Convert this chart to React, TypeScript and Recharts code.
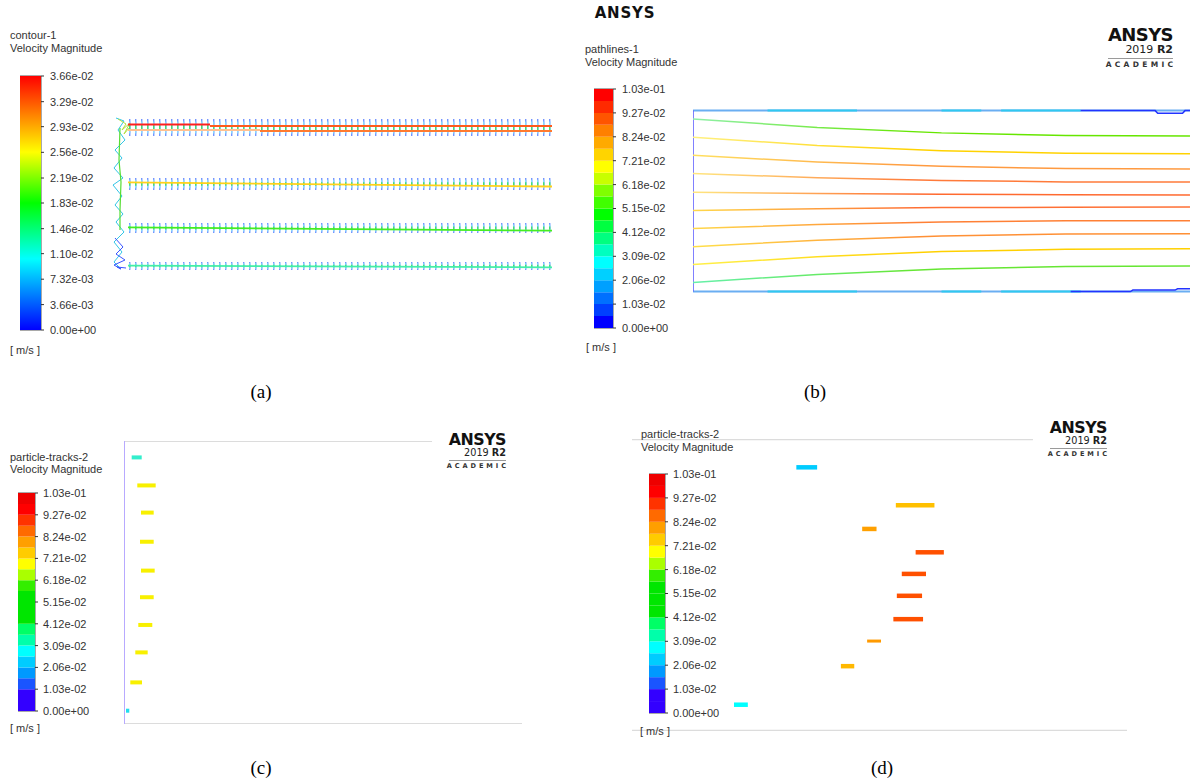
import { Bar, BarChart, Line, LineChart, ReferenceArea, XAxis, YAxis } from "recharts"

const SANS = '"Liberation Sans", Arial, sans-serif'
const LOGO_FONT = '"DejaVu Sans", Verdana, sans-serif'

// colour scale (a): contour, continuous
const A_MAX = 0.0366
const A_TICKS = [0, 0.00366, 0.00732, 0.011, 0.0146, 0.0183, 0.0219, 0.0256, 0.0293, 0.0329, 0.0366]

// colour scale (b)(c)(d): banded, 20 levels
const V_MAX = 0.103
const V_TICKS = [0, 0.0103, 0.0206, 0.0309, 0.0412, 0.0515, 0.0618, 0.0721, 0.0824, 0.0927, 0.103]
const V_LEVELS = [
  0, 0.00515, 0.0103, 0.01545, 0.0206, 0.02575, 0.0309, 0.03605, 0.0412, 0.04635, 0.0515,
  0.05665, 0.0618, 0.06695, 0.0721, 0.07725, 0.0824, 0.08755, 0.0927, 0.09785, 0.103,
]
// band colours listed bottom -> top
const BANDS_B = [
  "#0000ff", "#0040ff", "#0070ff", "#00a0ff", "#00d0ff", "#00ffff", "#00ffc0", "#00ff80", "#00ff40", "#00ff00",
  "#40ff00", "#80ff00", "#c8ff00", "#ffff00", "#ffd400", "#ffaa00", "#ff8000", "#ff5500", "#ff2a00", "#ff0000",
]
const BANDS_CD = [
  "#3300ff", "#3300ff", "#1a55ff", "#0099ff", "#00ccff", "#00ffff", "#00ffaa", "#00ff66", "#00e600", "#00e600",
  "#00e600", "#33ee00", "#aaff00", "#ffff00", "#ffcc00", "#ff9f00", "#ff6a00", "#ff3300", "#ff0000", "#ee0000",
]

// (a) contour-1: four channels (x, y in mm)
const A_TICK_Y = [15.25, 9.6, 5.2, 1.4]
const A_TICK_X0 = [1.9, 1.9, 1.9, 1.9]
const A_TICK_X1 = [44.1, 44.1, 44.1, 44.1]
const A_STREAK_X0 = [1.8, 10.0, 1.8, 15.0, 1.8, 1.8, 1.8]
const A_STREAK_X1 = [10.0, 44.2, 15.0, 44.2, 44.2, 44.2, 44.2]
const A_STREAK_Y0 = [15.55, 15.4, 15.0, 14.9, 9.77, 5.27, 1.43]
const A_STREAK_Y1 = [15.55, 15.4, 15.0, 14.9, 9.35, 4.93, 1.27]
const A_WALL_X = [0.6, 1.4, 0.8, 1.5, 0.5, 1.2, 0.4, 1.3, 0.3, 1.2, 0.5, 1.3, 0.6, 1.4, 0.4, 1.2, 0.4, 1.0]
const A_WALL_Y = [16.2, 15.9, 15.0, 14.0, 13.0, 12.2, 11.2, 10.2, 9.5, 8.4, 7.5, 6.6, 5.8, 4.8, 3.8, 2.8, 1.8, 1.2]
const A_WALL2_X = [0.5, 1.3, 0.6, 1.5, 0.4, 1.1, 0.7, 1.6]
const A_WALL2_Y = [4.2, 3.3, 2.6, 2.0, 1.5, 1.1, 1.3, 1.2]
const A_CORE_X = [1.0, 0.9, 1.1, 1.0, 1.0]
const A_CORE_Y = [15.2, 12.0, 9.8, 7.0, 5.0]
const A_KNOT_X = [0.8, 1.6, 1.2, 2.0, 1.4, 1.9]
const A_KNOT_Y = [16.1, 15.6, 15.0, 15.7, 14.6, 15.2]

// (b) pathlines-1 (x: fraction of length, y: mm)
const B_X = [0, 0.25, 0.5, 0.75, 1]
const B_PATHS = [
  [9.54, 9.07, 8.77, 8.63, 8.6],
  [8.53, 8.07, 7.78, 7.64, 7.61],
  [7.53, 7.16, 6.92, 6.8, 6.78],
  [6.53, 6.29, 6.14, 6.06, 6.05],
  [5.49, 5.42, 5.38, 5.35, 5.34],
  [4.48, 4.57, 4.64, 4.66, 4.67],
  [3.49, 3.7, 3.84, 3.91, 3.92],
  [2.48, 2.84, 3.07, 3.18, 3.2],
  [1.49, 1.93, 2.21, 2.34, 2.37],
  [0.5, 0.95, 1.25, 1.38, 1.41],
]
const B_START_COLOR = ["#8ff0a8", "#fff080", "#ffe060", "#ffe680", "#ffe680", "#ffd84a", "#ffd84a", "#ffe04a", "#fff04a", "#66f0aa"]
const B_END_COLOR = ["#66e600", "#ffd200", "#ff9a40", "#ff7a3a", "#ff6a30", "#ff7035", "#ff8035", "#ff9035", "#ffd000", "#66e633"]
const B_TOP_DARK_X = [0.78, 0.93, 0.935, 0.985, 0.99, 1]
const B_TOP_DARK_Y = [10, 10, 9.85, 9.85, 10, 10]
const B_BOT_DARK_X = [0.76, 0.88, 0.885, 0.97, 0.975, 1]
const B_BOT_DARK_Y = [0, 0, 0.08, 0.08, 0.15, 0.15]
const B_TOP_CYAN_X0 = [0.15, 0.5, 0.62]
const B_TOP_CYAN_X1 = [0.33, 0.58, 0.78]

// (c) particle-tracks-2, first view
const C_X0 = [1.93, 3.34, 4.27, 4.02, 4.27, 4.02, 3.59, 2.84, 1.58, 0.5]
const C_X1 = [4.45, 7.96, 7.46, 7.46, 7.71, 7.46, 7.11, 5.95, 4.52, 1.33]
const C_Y = [94.2, 84.3, 74.7, 64.4, 54.2, 44.8, 35.0, 25.3, 14.7, 4.7]
const C_COLOR = ["#33eecc", "#f8f000", "#f8f000", "#f8f000", "#f8f000", "#f8f000", "#f8f000", "#f8f000", "#f8f000", "#22ddee"]

// (d) particle-tracks-2, later view
const D_X0 = [33.2, 53.3, 46.5, 57.3, 54.5, 53.5, 52.8, 47.5, 42.2, 20.6]
const D_X1 = [37.4, 61.1, 49.4, 63.0, 59.4, 58.6, 58.8, 50.3, 44.9, 23.4]
const D_Y = [90.3, 77.3, 69.2, 61.2, 53.8, 46.3, 38.3, 30.8, 22.2, 9.0]
const D_COLOR = ["#00ccff", "#ffc000", "#ffa000", "#ff5000", "#ff5000", "#ff5000", "#ff5000", "#ff9a00", "#ffb800", "#00ffff"]

const fmt = (v: number) => {
  if (v === 0) return "0.00e+00"
  const [m, e] = v.toExponential(2).split("e")
  const n = parseInt(e, 10)
  return `${m}e${n < 0 ? "-" : "+"}${String(Math.abs(n)).padStart(2, "0")}`
}

const seg = (x0: number, x1: number, y0: number, y1: number) => [
  { x: x0, y: y0 },
  { x: x1, y: y1 },
]
const pts = (xs: number[], ys: number[]) => xs.map((x, i) => ({ x, y: ys[i] }))

interface ColorBarProps {
  left: number
  top: number
  barWidth: number
  barHeight: number
  max: number
  ticks: number[]
  bands?: string[]
  gradientId?: string
  tickMargin: number
}

const ColorBar = ({ left, top, barWidth, barHeight, max, ticks, bands, gradientId, tickMargin }: ColorBarProps) => {
  const pad = 8
  const axisW = 70
  const row: Record<string, number | string> = { k: "cb" }
  if (bands) bands.forEach((_, i) => (row[`b${i}`] = V_LEVELS[i + 1] - V_LEVELS[i]))
  else row.b0 = max
  return (
    <div style={{ position: "absolute", left, top: top - pad }}>
      <BarChart
        width={barWidth + axisW}
        height={barHeight + 2 * pad}
        data={[row]}
        margin={{ top: pad, bottom: pad, left: 0, right: 0 }}
        barCategoryGap={0}
        barGap={0}
      >
        <defs>
          <linearGradient id="contourGrad" x1="0" y1="0" x2="0" y2="1">
            <stop offset="0" stopColor="#ff0000" />
            <stop offset="0.15" stopColor="#ff8000" />
            <stop offset="0.3" stopColor="#ffff00" />
            <stop offset="0.5" stopColor="#00ff00" />
            <stop offset="0.72" stopColor="#00ffff" />
            <stop offset="1" stopColor="#0000ff" />
          </linearGradient>
        </defs>
        <XAxis dataKey="k" hide />
        <YAxis
          type="number"
          orientation="right"
          width={axisW}
          domain={[0, max]}
          allowDataOverflow
          ticks={ticks}
          interval={0}
          tickFormatter={fmt}
          tickSize={3}
          tickMargin={tickMargin}
          axisLine={false}
          tickLine={{ stroke: "#333" }}
          tick={{ fontSize: 11, fill: "#333", fontFamily: SANS }}
        />
        {bands ? (
          bands.map((c, i) => (
            <Bar key={i} dataKey={`b${i}`} stackId="s" fill={c} isAnimationActive={false} />
          ))
        ) : (
          <Bar dataKey="b0" fill={`url(#${gradientId})`} isAnimationActive={false} />
        )}
        <ReferenceArea y1={0} y2={max} fill="none" stroke="#555" strokeWidth={1} ifOverflow="visible" />
      </BarChart>
    </div>
  )
}

const Txt = ({ x, y, children, size = 11 }: { x: number; y: number; children: React.ReactNode; size?: number }) => (
  <div
    style={{
      position: "absolute",
      left: x,
      top: y - 7,
      fontSize: size,
      lineHeight: "14px",
      fontFamily: SANS,
      color: "#333",
      whiteSpace: "nowrap",
    }}
  >
    {children}
  </div>
)

const Caption = ({ cx, cy, children }: { cx: number; cy: number; children: React.ReactNode }) => (
  <div
    style={{
      position: "absolute",
      left: cx - 30,
      width: 60,
      top: cy - 11,
      textAlign: "center",
      fontSize: 19,
      lineHeight: "22px",
      fontFamily: '"Liberation Serif", "Times New Roman", serif',
      color: "#000",
    }}
  >
    {children}
  </div>
)

const Logo = ({ right, top, s = 1 }: { right: number; top: number; s?: number }) => (
  <div
    style={{
      position: "absolute",
      left: right - 90 * s,
      top,
      width: 90 * s,
      textAlign: "right",
      fontFamily: LOGO_FONT,
      color: "#111",
    }}
  >
    <div style={{ fontSize: 18 * s, fontWeight: 700, lineHeight: `${16 * s}px`, letterSpacing: -0.6 * s }}>ANSYS</div>
    <div style={{ fontSize: 11 * s, lineHeight: `${11 * s}px`, marginTop: 1 * s, color: "#222" }}>
      2019 <b>R2</b>
    </div>
    <div style={{ borderTop: "1.5px solid #9a9a9a", marginLeft: 25 * s, marginTop: 3 * s }} />
    <div
      style={{
        fontSize: 7.5 * s,
        fontWeight: 700,
        letterSpacing: 3.3 * s,
        lineHeight: `${10 * s}px`,
        marginTop: 1 * s,
        marginRight: -3.3 * s,
        color: "#333",
      }}
    >
      ACADEMIC
    </div>
  </div>
)

interface PlotProps {
  left: number
  top: number
  width: number
  height: number
  xDomain: [number, number]
  yDomain: [number, number]
  children: React.ReactNode
}

const Plot = ({ left, top, width, height, xDomain, yDomain, children }: PlotProps) => (
  <div style={{ position: "absolute", left, top }}>
    <LineChart width={width} height={height} margin={{ top: 0, right: 0, bottom: 0, left: 0 }}>
      <defs>
        {B_START_COLOR.map((c, i) => (
          <linearGradient key={i} id={`pl${i}`} x1="0" y1="0" x2="1" y2="0">
            <stop offset="0" stopColor={c} />
            <stop offset="0.45" stopColor={B_END_COLOR[i]} />
            <stop offset="1" stopColor={B_END_COLOR[i]} />
          </linearGradient>
        ))}
      </defs>
      <XAxis type="number" dataKey="x" domain={xDomain} hide />
      <YAxis type="number" dataKey="y" domain={yDomain} hide />
      {children}
    </LineChart>
  </div>
)

const lineProps = { dot: false, activeDot: false, isAnimationActive: false, type: "linear" as const, dataKey: "y" }

const TICK_H = [17, 12, 10, 8]
const TICK_DASH = "1.4 4.6"
const STREAK_COLOR = ["#ff2020", "#ff5a1e", "#ffc090", "#ff7a30", "#ffd21a", "#44ee22", "#44eeaa"]

export default function App() {
  return (
    <div
      style={{
        position: "absolute",
        left: 0,
        top: 0,
        width: 1193,
        height: 780,
        background: "#fff",
        overflow: "hidden",
      }}
    >
      {/* (a) contour-1 */}
      <Plot left={110} top={110} width={450} height={170} xDomain={[0, 45]} yDomain={[0, 17]}>
        {A_TICK_Y.map((y, i) => (
          <Line key={`tb${i}`} {...lineProps} data={seg(A_TICK_X0[i], A_TICK_X1[i], y, y)} stroke="#3a66ff" strokeOpacity={0.7} strokeWidth={TICK_H[i]} strokeDasharray={TICK_DASH} />
        ))}
        {A_TICK_Y.map((y, i) => (
          <Line key={`tc${i}`} {...lineProps} data={seg(A_TICK_X0[i], A_TICK_X1[i], y, y)} stroke="#86d8ff" strokeWidth={TICK_H[i] * 0.7} strokeDasharray={TICK_DASH} />
        ))}
        {A_TICK_Y.map((y, i) => (
          <Line key={`tg${i}`} {...lineProps} data={seg(A_TICK_X0[i], A_TICK_X1[i], y, y)} stroke="#44e070" strokeWidth={TICK_H[i] * 0.3} strokeDasharray={TICK_DASH} />
        ))}
        <Line {...lineProps} data={pts(A_WALL_X, A_WALL_Y)} stroke="#33c6e6" strokeWidth={1} />
        <Line {...lineProps} data={pts(A_WALL2_X, A_WALL2_Y)} stroke="#3a55ff" strokeWidth={1} />
        <Line {...lineProps} data={pts(A_CORE_X, A_CORE_Y)} stroke="#55dd33" strokeWidth={1.2} />
        <Line {...lineProps} data={pts(A_KNOT_X, A_KNOT_Y)} stroke="#b0e040" strokeWidth={1} />
        {A_STREAK_X0.map((x0, i) => (
          <Line key={`s${i}`} {...lineProps} data={seg(x0, A_STREAK_X1[i], A_STREAK_Y0[i], A_STREAK_Y1[i])} stroke={STREAK_COLOR[i]} strokeWidth={1.8} />
        ))}
      </Plot>
      <Txt x={10} y={35}>contour-1</Txt>
      <Txt x={10} y={48}>Velocity Magnitude</Txt>
      <ColorBar left={20} top={76} barWidth={21} barHeight={254} max={A_MAX} ticks={A_TICKS} gradientId="contourGrad" tickMargin={6} />
      <Txt x={10} y={350}>[ m/s ]</Txt>

      {/* (b) pathlines-1: domain padded so wall strokes are not cut */}
      <Plot left={693} top={107.4} width={499} height={188.2} xDomain={[0, 1.004]} yDomain={[-0.2, 10.2]}>
        <Line {...lineProps} data={seg(0, 1, 10, 10)} stroke="#6aaef2" strokeWidth={2} />
        <Line {...lineProps} data={seg(0, 1, 0, 0)} stroke="#6aaef2" strokeWidth={2} />
        {B_TOP_CYAN_X0.map((x0, i) => (
          <Line key={`ct${i}`} {...lineProps} data={seg(x0, B_TOP_CYAN_X1[i], 10, 10)} stroke="#30c8f0" strokeWidth={2} />
        ))}
        {B_TOP_CYAN_X0.map((x0, i) => (
          <Line key={`cb${i}`} {...lineProps} data={seg(x0, B_TOP_CYAN_X1[i], 0, 0)} stroke="#30c8f0" strokeWidth={2} />
        ))}
        <Line {...lineProps} data={pts(B_TOP_DARK_X, B_TOP_DARK_Y)} stroke="#2233ff" strokeWidth={1.5} />
        <Line {...lineProps} data={pts(B_BOT_DARK_X, B_BOT_DARK_Y)} stroke="#2233ff" strokeWidth={1.5} />
        <Line {...lineProps} data={seg(0, 0, 0, 10)} stroke="#5a5aff" strokeWidth={1.5} />
        {B_PATHS.map((ys, i) => (
          <Line key={i} {...lineProps} data={pts(B_X, ys)} stroke={`url(#pl${i})`} strokeWidth={1.5} />
        ))}
      </Plot>
      <Txt x={585} y={49}>pathlines-1</Txt>
      <Txt x={585} y={62}>Velocity Magnitude</Txt>
      <ColorBar left={594} top={89} barWidth={19} barHeight={239} max={V_MAX} ticks={V_TICKS} bands={BANDS_B} tickMargin={6} />
      <Txt x={586} y={347}>[ m/s ]</Txt>
      <Logo right={1173} top={27} />
      <div
        style={{
          position: "absolute",
          left: 540,
          top: 4,
          width: 170,
          textAlign: "center",
          fontFamily: LOGO_FONT,
          fontWeight: 700,
          fontSize: 15,
          lineHeight: "18px",
          letterSpacing: 0.8,
          color: "#111",
        }}
      >
        ANSYS
      </div>

      {/* (c) particle-tracks-2 */}
      <Plot left={124} top={441} width={398} height={283} xDomain={[0, 100]} yDomain={[0, 100]}>
        <Line {...lineProps} data={seg(0, 77.4, 100, 100)} stroke="#dcdcdc" strokeWidth={2} />
        <Line {...lineProps} data={seg(0, 100, 0, 0)} stroke="#dcdcdc" strokeWidth={2} />
        <Line {...lineProps} data={seg(0, 0, 0, 100)} stroke="#b8aaff" strokeWidth={2} />
        {C_X0.map((x0, i) => (
          <Line key={i} {...lineProps} data={seg(x0, C_X1[i], C_Y[i], C_Y[i])} stroke={C_COLOR[i]} strokeWidth={4} />
        ))}
      </Plot>
      <Txt x={10} y={457}>particle-tracks-2</Txt>
      <Txt x={10} y={469}>Velocity Magnitude</Txt>
      <ColorBar left={18} top={493} barWidth={17} barHeight={218} max={V_MAX} ticks={V_TICKS} bands={BANDS_CD} tickMargin={5} />
      <Txt x={10} y={728}>[ m/s ]</Txt>
      <Logo right={506} top={433} s={0.88} />

      {/* (d) particle-tracks-2 */}
      <Plot left={632} top={439} width={495} height={292} xDomain={[0, 100]} yDomain={[0, 100]}>
        <Line {...lineProps} data={seg(0, 81, 100, 100)} stroke="#dcdcdc" strokeWidth={2.5} />
        <Line {...lineProps} data={seg(0, 100, 0, 0)} stroke="#dcdcdc" strokeWidth={2.5} />
        {D_X0.map((x0, i) => (
          <Line key={i} {...lineProps} data={seg(x0, D_X1[i], D_Y[i], D_Y[i])} stroke={D_COLOR[i]} strokeWidth={i === 7 ? 3 : 4.5} />
        ))}
      </Plot>
      <Txt x={641} y={434}>particle-tracks-2</Txt>
      <Txt x={641} y={447}>Velocity Magnitude</Txt>
      <ColorBar left={649} top={474} barWidth={16} barHeight={239} max={V_MAX} ticks={V_TICKS} bands={BANDS_CD} tickMargin={5} />
      <Txt x={640} y={731}>[ m/s ]</Txt>
      <Logo right={1107} top={421} s={0.88} />

      <Caption cx={261} cy={392}>(a)</Caption>
      <Caption cx={815} cy={392}>(b)</Caption>
      <Caption cx={261} cy={768}>(c)</Caption>
      <Caption cx={882} cy={768}>(d)</Caption>
    </div>
  )
}
